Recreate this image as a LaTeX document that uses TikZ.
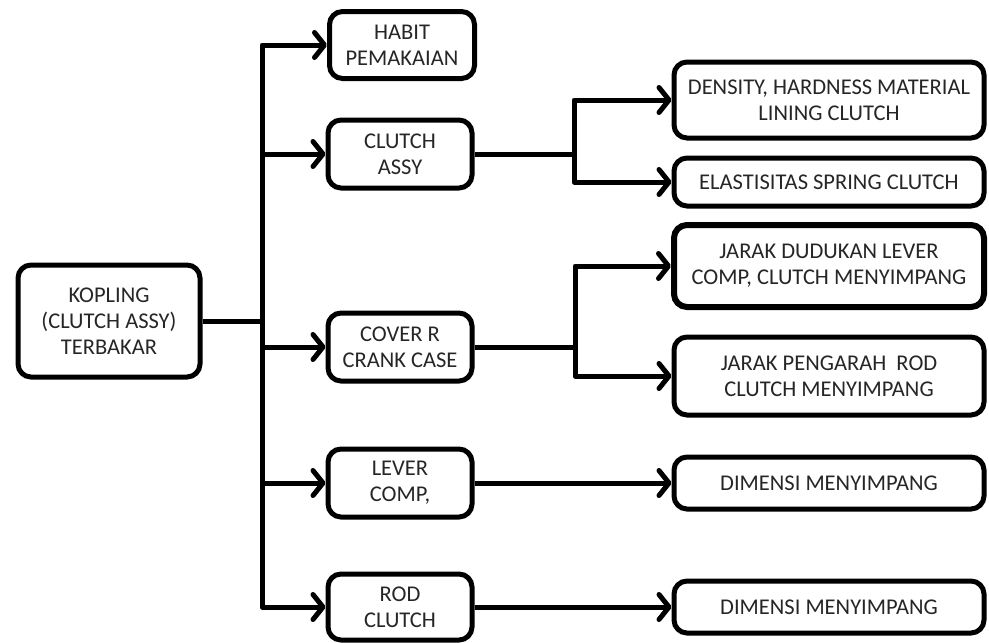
\documentclass[tikz,border=0pt]{standalone}
\usepackage{fontspec}
\setmainfont{Carlito}
\usetikzlibrary{arrows.meta}
\begin{document}
\begin{tikzpicture}[x=1pt,y=-1pt,
  box/.style={draw=black, line width=5pt, rounded corners=13pt, fill=white,
    align=center, inner sep=0pt, font=\fontsize{22.5}{26}\selectfont, text=black!85},
  conn/.style={draw=black, line width=5pt, line join=round},
  arr/.style={conn, -{Straight Barb[length=10pt,width=25pt,line cap=round,line join=round]}}]
\useasboundingbox (0,0) rectangle (989,643);
\fill[white] (0,0) rectangle (989,643);
% left column
\node[box, minimum width=182pt, minimum height=112pt] (kop) at (109,321) {KOPLING\\(CLUTCH ASSY)\\TERBAKAR};
% middle column
\node[box, minimum width=145pt, minimum height=67pt] (habit) at (402,45) {HABIT\\PEMAKAIAN};
\node[box, minimum width=144pt, minimum height=68pt] (clutch) at (400,154) {CLUTCH\\ASSY};
\node[box, minimum width=144pt, minimum height=68pt] (cover) at (400,347) {COVER R\\CRANK CASE};
\node[box, minimum width=144pt, minimum height=68pt] (lever) at (400,483) {LEVER\\COMP,};
\node[box, minimum width=144pt, minimum height=66pt] (rod) at (400,607) {ROD\\CLUTCH};
% right column
\node[box, minimum width=310pt, minimum height=76pt] (dens) at (829,100) {DENSITY, HARDNESS MATERIAL\\LINING CLUTCH};
\node[box, minimum width=310pt, minimum height=48pt] (elas) at (829,182) {ELASTISITAS SPRING CLUTCH};
\node[box, minimum width=310pt, minimum height=82pt, line width=6pt] (jdud) at (829,266) {JARAK DUDUKAN LEVER\\COMP, CLUTCH MENYIMPANG};
\node[box, minimum width=310pt, minimum height=78pt] (jpeng) at (829,376) {JARAK PENGARAH\ \ ROD\\CLUTCH MENYIMPANG};
\node[box, minimum width=310pt, minimum height=52pt] (dim1) at (829,483) {DIMENSI MENYIMPANG};
\node[box, minimum width=310pt, minimum height=52pt] (dim2) at (829,607) {DIMENSI MENYIMPANG};
% spine
\coordinate (sp) at (262,321);
\draw[conn] (kop.east) -- (sp);
\draw[arr] (sp) |- (habit.west);
\draw[arr] (sp) |- (clutch.west);
\draw[arr] (sp) |- (cover.west);
\draw[arr] (sp) |- (lever.west);
\draw[arr] (sp) |- (rod.west);
% clutch branch
\coordinate (b1) at (574,154);
\draw[conn] (clutch.east) -- (b1);
\draw[arr] (b1) |- (dens.west);
\draw[arr] (b1) |- (elas.west);
% cover branch
\coordinate (b2) at (575,347);
\draw[conn] (cover.east) -- (b2);
\draw[arr] (b2) |- (jdud.west);
\draw[arr] (b2) |- (jpeng.west);
% straight ones
\draw[arr] (lever.east) -- (dim1.west);
\draw[arr] (rod.east) -- (dim2.west);
\end{tikzpicture}
\end{document}
